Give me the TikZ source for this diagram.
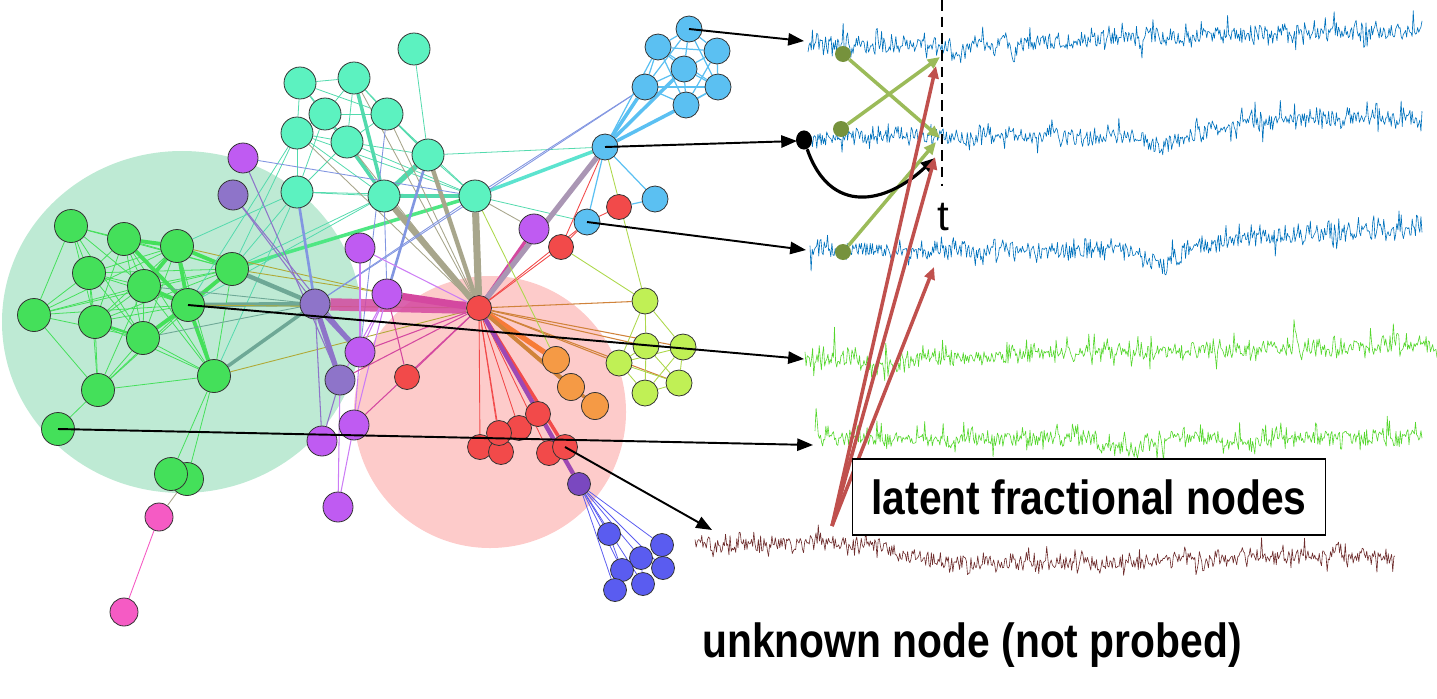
\documentclass[tikz,border=0pt]{standalone}
\usepackage{fontspec}
\setsansfont{Liberation Sans}
\newfontfamily\labelfont{Liberation Sans Bold}[FakeStretch=0.85]
\usetikzlibrary{arrows.meta}
\pgfdeclarelayer{back}
\pgfdeclarelayer{links}
\pgfsetlayers{back,links,main}
\definecolor{bggreen}{RGB}{190,234,212}
\definecolor{bgred}{RGB}{253,203,202}
\definecolor{cteal}{RGB}{92,242,192}
\definecolor{cgreen}{RGB}{68,224,90}
\definecolor{cpurple}{RGB}{191,91,242}
\definecolor{cviolet}{RGB}{142,116,201}
\definecolor{cpink}{RGB}{245,91,196}
\definecolor{csky}{RGB}{91,192,242}
\definecolor{cred}{RGB}{242,74,74}
\definecolor{corange}{RGB}{245,154,69}
\definecolor{clime}{RGB}{192,240,85}
\definecolor{cdviolet}{RGB}{122,72,192}
\definecolor{cblue}{RGB}{90,92,240}
\definecolor{cgray}{RGB}{168,166,140}
\definecolor{cmag}{RGB}{212,72,160}
\definecolor{cslate}{RGB}{110,168,150}
\definecolor{cmauve}{RGB}{170,150,180}
\definecolor{cperi}{RGB}{130,150,225}
\definecolor{trblue}{RGB}{0,114,189}
\definecolor{trgreen}{RGB}{85,215,45}
\definecolor{trbrown}{RGB}{110,45,45}
\definecolor{dotolive}{RGB}{118,146,60}
\definecolor{arrgreen}{RGB}{155,187,89}
\definecolor{arrred}{RGB}{192,80,77}
\tikzset{
  nd/.style = {circle, draw=black!80, line width=0.45pt, inner sep=0pt},
  nd_q/.style = {nd, fill=cteal, minimum size=6.4mm},% teal community
  nd_g/.style = {nd, fill=cgreen, minimum size=6.6mm},% green community
  nd_p/.style = {nd, fill=cpurple, minimum size=6mm},
  nd_v/.style = {nd, fill=cviolet, minimum size=6mm},
  nd_k/.style = {nd, fill=cpink, minimum size=5.6mm},
  nd_s/.style = {nd, fill=csky, minimum size=5.2mm},
  nd_r/.style = {nd, fill=cred, minimum size=5mm},
  nd_o/.style = {nd, fill=corange, minimum size=5.4mm},
  nd_l/.style = {nd, fill=clime, minimum size=5.2mm},
  nd_d/.style = {nd, fill=cdviolet, minimum size=4.6mm},
  nd_b/.style = {nd, fill=cblue, minimum size=4.6mm},
  ed_g/.style = {cgreen, line width=0.45pt},
  ed_gm/.style = {cgreen, line width=2.2pt},
  ed_q/.style = {cteal!90!black, line width=0.45pt},
  ed_qm/.style = {cteal!90!black, line width=2pt},
  ed_w/.style = {cgray, line width=0.5pt},
  ed_t/.style = {cslate, line width=0.5pt},
  ed_u/.style = {cperi, line width=0.5pt},
  ed_x/.style = {cmauve, line width=3pt},
  ed_p/.style = {cpurple!80, line width=0.6pt},
  ed_v/.style = {cviolet, line width=0.6pt},
  ed_m/.style = {cmag, line width=0.6pt},
  ed_r/.style = {cred, line width=0.5pt},
  ed_o/.style = {corange!85!black, line width=0.6pt},
  ed_l/.style = {clime!90!black, line width=0.5pt},
  ed_s/.style = {csky, line width=0.7pt},
  ed_b/.style = {cblue, line width=0.45pt},
  link/.style = {-{Triangle[length=9pt,width=7pt]}, line width=1.1pt, black},
  grarrow/.style = {-{Triangle[length=7pt,width=6pt]}, line width=2pt, arrgreen},
  rdarrow/.style = {-{Triangle[length=7pt,width=6pt]}, line width=2pt, arrred},
  tr_b/.style = {trblue, line width=0.35pt, line join=round},
  tr_g/.style = {trgreen, line width=0.35pt, line join=round},
  tr_n/.style = {trbrown, line width=0.35pt, line join=round},
  bigtext/.style = {font=\labelfont\fontsize{27.3}{30}\selectfont},
}

\begin{document}
\begin{tikzpicture}[x=0.2mm, y=-0.2mm,
  declare function={sg(\z)=1/(1+exp(min(9,max(-9,-\z))));
                    bump(\z)=exp(max(-9,-(\z)*(\z)));
                    jit(\a)=\a*(0.35*rand + rand*rand*rand);
                    spk(\a)=-\a*abs(rand*rand*rand*rand);}]
  \useasboundingbox (0,0) rectangle (1437,698);

  % communities
  \node[nd_q] (q1) at (414,49) {};
  \node[nd_q] (q2) at (300,83) {};
  \node[nd_q] (q3) at (354,78) {};
  \node[nd_q] (q6) at (297,133) {};
  \node[nd_q] (q4) at (325,114) {};
  \node[nd_q] (q5) at (387,114) {};
  \node[nd_q] (q7) at (347,142) {};
  \node[nd_q] (q8) at (428,155) {};
  \node[nd_q] (q9) at (297,192) {};
  \node[nd_q] (q10) at (384,196) {};
  \node[nd_q] (q11) at (475,196) {};

  \node[nd_p] (p1) at (243,158) {};
  \node[nd_v] (v1) at (233,195) {};
  \node[nd_p] (p2) at (360,248) {};
  \node[nd_p] (p3) at (387,294) {};
  \node[nd_v] (v2) at (315,304) {};
  \node[nd_p] (p4) at (360,352) {};
  \node[nd_v] (v3) at (340,380) {};
  \node[nd_p] (p5) at (354,425) {};
  \node[nd_p] (p6) at (322,441) {};
  \node[nd_p] (p7) at (338,507) {};
  \node[nd_p] (p8) at (534,229) {};

  \node[nd_g] (g1) at (71,226) {};
  \node[nd_g] (g2) at (124,239) {};
  \node[nd_g] (g3) at (177,246) {};
  \node[nd_g] (g4) at (89,273) {};
  \node[nd_g] (g5) at (144,286) {};
  \node[nd_g] (g6) at (232,269) {};
  \node[nd_g] (g7) at (188,305) {};
  \node[nd_g] (g8) at (34,315) {};
  \node[nd_g] (g9) at (95,322) {};
  \node[nd_g] (g10) at (143,338) {};
  \node[nd_g] (g11) at (214,376) {};
  \node[nd_g] (g12) at (98,390) {};
  \node[nd_g] (g13) at (58,429) {};
  \node[nd_g] (g14) at (187,479) {};
  \node[nd_g] (g15) at (171,474) {};

  \node[nd_k] (k1) at (159,517) {};
  \node[nd_k] (k2) at (124,612) {};

  \node[nd_s] (s1) at (689,29) {};
  \node[nd_s] (s2) at (658,47) {};
  \node[nd_s] (s3) at (717,51) {};
  \node[nd_s] (s4) at (684,69) {};
  \node[nd_s] (s5) at (645,87) {};
  \node[nd_s] (s6) at (718,87) {};
  \node[nd_s] (s7) at (686,105) {};
  \node[nd_s] (s8) at (605,147) {};
  \node[nd_s] (s9) at (655,199) {};
  \node[nd_s] (s10) at (587,222) {};

  \node[nd_r] (r1) at (619,207) {};
  \node[nd_r] (r2) at (561,247) {};
  \node[nd_r] (hub) at (479,308) {};
  \node[nd_r] (r3) at (407,377) {};
  \node[nd_r] (r7) at (480,447) {};
  \node[nd_r] (r8) at (501,452) {};
  \node[nd_r] (r5) at (519,428) {};
  \node[nd_r] (r6) at (499,433) {};
  \node[nd_r] (r4) at (538,414) {};
  \node[nd_r] (r9) at (549,453) {};
  \node[nd_r] (r10) at (565,447) {};

  \node[nd_o] (o1) at (556,360) {};
  \node[nd_o] (o2) at (571,387) {};
  \node[nd_o] (o3) at (595,406) {};

  \node[nd_l] (l1) at (645,301) {};
  \node[nd_l] (l2) at (646,346) {};
  \node[nd_l] (l3) at (683,347) {};
  \node[nd_l] (l4) at (619,363) {};
  \node[nd_l] (l5) at (679,383) {};
  \node[nd_l] (l6) at (645,393) {};

  \node[nd_d] (d1) at (579,484) {};
  \node[nd_b] (b1) at (609,534) {};
  \node[nd_b] (b2) at (662,545) {};
  \node[nd_b] (b3) at (641,558) {};
  \node[nd_b] (b4) at (622,570) {};
  \node[nd_b] (b5) at (663,568) {};
  \node[nd_b] (b6) at (643,584) {};
  \node[nd_b] (b7) at (615,590) {};

  \begin{pgfonlayer}{back}
    \fill[bggreen] (182,322) ellipse [x radius=36mm, y radius=34.2mm];
    \fill[bgred] (490,412) circle [radius=27.2mm];
  \end{pgfonlayer}

  \begin{pgfonlayer}{links}
    % green community
    \path[ed_g] (g1) edge (g2) edge (g4) edge (g5) edge (g8) edge (g9) edge (g10) edge (g6);
    \path[ed_g] (g2) edge (g4) edge (g5) edge (g6) edge (g9) edge (g10) edge (g11);
    \path[ed_g] (g3) edge (g4) edge (g9) edge (g10) edge (g11) edge (g8);
    \path[ed_g] (g4) edge (g5) edge (g6) edge (g8) edge (g9) edge (g10) edge (g12) edge (g7);
    \path[ed_g] (g5) edge (g6) edge (g8) edge (g9) edge (g10) edge (g11) edge (g12);
    \path[ed_g] (g6) edge (g8) edge (g9) edge (g12) edge (g11) edge (g10);
    \path[ed_g] (g7) edge (g8) edge (g9) edge (g12);
    \path[ed_g] (g8) edge (g10) edge (g12);
    \path[ed_g] (g9) edge (g11) edge (g12);
    \path[ed_g] (g10) edge (g12) edge (g11);
    \path[ed_g] (g11) edge (g12) edge (g14) edge (g15);
    \path[ed_g] (g12) edge (g13);
    \path[ed_gm] (g2) edge (g3) edge (g7);
    \path[ed_gm] (g3) edge (g6) edge (g7) edge (g5);
    \path[ed_gm] (g7) edge (g11) edge (g5) edge (g10) edge (g6);
    \path[ed_gm, line width=1.5pt] (g9) edge (g10);
    \path[ed_gm, line width=2pt, color=cgreen!60!cteal] (g6) edge (q11);
    % teal community
    \path[ed_q] (q2) edge (q3) edge (q4) edge (q6) edge (q5) edge (q10);
    \path[ed_q] (q3) edge (q4) edge (q5) edge (q7) edge (q8);
    \path[ed_q] (q4) edge (q5) edge (q6) edge (q7) edge (q9) edge (q10);
    \path[ed_q] (q5) edge (q7) edge (q8) edge (q11);
    \path[ed_q] (q6) edge (q7) edge (q10) edge (q9) edge (q11) edge (g7) edge (g6);
    \path[ed_q] (q7) edge (q8) edge (q9) edge (q11);
    \path[ed_q] (q8) edge (q11) edge (s8);
    \path[ed_q] (q9) edge (q10) edge (q11) edge (g6) edge (g3) edge (g11);
    \path[ed_q] (q10) edge (g6) edge (g7);
    \path[ed_q] (q1) edge (q8);
    \path[ed_q] (s10) edge (q11);
    \path[ed_qm] (q10) edge (q11) edge (q7) edge (q3);
    \path[ed_qm, line width=3pt] (q8) edge (q10);
    \path[ed_qm, color=cteal!70!csky] (q11) edge (s8);
    % towards the hub
    \path[ed_w, line width=3.5pt] (q10) edge (hub);
    \path[ed_w, line width=4pt] (q11) edge (hub);
    \path[ed_w, line width=2.5pt] (q8) edge (hub);
    \path[ed_w] (q5) edge (hub) (q3) edge (hub) (q7) edge (hub) (q6) edge (hub) (q11) edge (p8) (g14) edge (k1);
    \path[ed_t, line width=2.5pt] (g6) edge (v2) (g7) edge (v2);
    \path[ed_t, line width=2pt] (g11) edge (v2);
    \path[ed_t] (g10) edge (v2) (g5) edge (v2);
    \path[ed_t, color=olive!70] (g6) edge (hub) (g7) edge (hub) (g11) edge (hub) (g3) edge (p3);
    \path[ed_u, line width=1.5pt] (q9) edge (v2) (q8) edge (p3);
    \path[ed_u] (q10) edge (p3) (q5) edge (p4) (p1) edge (q11) (s5) edge (q11) (s5) edge (v2) (q11) edge (v2);
    % purple links
    \path[ed_m, line width=7pt, opacity=0.85] (v2) edge (hub);
    \path[ed_m, line width=4pt] (p3) edge (hub);
    \path[ed_m, line width=2pt] (p8) edge (hub);
    \path[ed_v, line width=3pt] (v2) edge (v3) (v2) edge (p4);
    \path[ed_v] (p1) edge (v3) (v1) edge (v2) (v1) edge (p4) (v2) edge (p6) (p6) edge (v3);
    \path[ed_p] (p2) edge (p4) (p3) edge (p4) (p3) edge (v3) (p3) edge (p5) (p4) edge (p5) (v3) edge (p7) (p5) edge (p7) (p2) edge (hub);
    \path[ed_m] (p4) edge (hub) (p5) edge (hub) (v3) edge (hub) (r3) edge (p3) (r3) edge (hub);
    \path[ed_x] (s8) edge (hub);
    % red and orange
    \path[ed_r] (hub) edge (r2) edge (r4) edge (r5) edge (r6) edge (r7) edge (r8) edge (r9) edge (s10);
    \path[ed_r] (r1) edge (s10) (r2) edge (s10) (r2) edge (s8);
    \path[ed_r, line width=2pt] (hub) edge (r10);
    \path[ed_m, line width=2.5pt, color=cdviolet!60!cmag] (hub) edge (d1);
    \path[ed_o, line width=3pt, color=corange!80!red] (hub) edge (o1);
    \path[ed_o, line width=2pt] (hub) edge (o2) (hub) edge (o3);
    \path[ed_o] (hub) edge (l1) (hub) edge (l2) (hub) edge (l3) (hub) edge (l4) (hub) edge (l5);
    % lime community
    \path[ed_l] (l1) edge (l2) edge (l3) edge (l4);
    \path[ed_l] (l2) edge (l3) edge (l4) edge (l5) edge (l6);
    \path[ed_l] (l3) edge (l4) edge (l5) edge (l6);
    \path[ed_l] (l4) edge (l6) edge (l5);
    \path[ed_l] (l5) edge (l6);
    \path[ed_l] (r2) edge (l1) (s8) edge (l1) (q11) edge (o1);
    % sky community
    \path[ed_s] (s1) edge (s2) edge (s3) edge (s4) edge (s5) edge (s6);
    \path[ed_s] (s2) edge (s3) edge (s4) edge (s5) edge (s6) edge (s7);
    \path[ed_s] (s3) edge (s4) edge (s6) edge (s7);
    \path[ed_s] (s4) edge (s5) edge (s6) edge (s7);
    \path[ed_s] (s5) edge (s6) edge (s7);
    \path[ed_s] (s6) edge (s7);
    \path[ed_s, line width=2pt] (s8) edge (s5) edge (s7) edge (s4);
    \path[ed_s] (s8) edge (s2) edge (s6) edge (s9) edge (s10);
    \path[ed_s] (r1) edge (s9);
    % blue tail
    \path[ed_b] (d1) edge (b1) edge (b2) edge (b3) edge (b4) edge (b5) edge (b6) edge (b7);
    \path[ed_b] (b1) edge (b4) (b3) edge (b6);
    % pink tail
    \path[cpink, line width=0.5pt] (k1) edge (k2);
  \end{pgfonlayer}

  % recorded traces
  \pgfmathsetseed{42}
  \draw[tr_b] plot[domain=808:1422, samples=560]
    (\x, {48 - 16*sg((\x-1120)/90) + 12*bump((\x-958)/10) + 12*bump((\x-1015)/5) + jit(20) + spk(30)});
  \draw[tr_b] plot[domain=808:1422, samples=560]
    (\x, {138 + 14*bump((\x-1165)/25) - 20*sg((\x-1230)/40) + jit(20) + spk(25)});
  \draw[tr_b] plot[domain=810:1422, samples=560]
    (\x, {252 + 14*bump((\x-1165)/25) - 20*sg((\x-1230)/40) + jit(20) + spk(25)});
  \draw[tr_g] plot[domain=805:1437, samples=580]
    (\x, {362 - 15*(\x-805)/632 + 10*bump((\x-885)/20) + jit(18) + spk(45)});
  \draw[tr_g] plot[domain=815:1422, samples=560]
    (\x, {440 + 12*bump((\x-1130)/30) + 8*bump((\x-1235)/15) + jit(18) + spk(45)});
  \draw[tr_n] plot[domain=695:1395, samples=620]
    (\x, {545 + 20*sg((\x-905)/15) - 8*sg((\x-1200)/60) + jit(18) + spk(25)});

  % probes
  \coordinate (w1) at (804,41);
  \coordinate (w2) at (797,141);
  \coordinate (w3) at (806,250);
  \coordinate (w4) at (804,359);
  \coordinate (w5) at (813,445);
  \coordinate (w6) at (712,530);
  \draw[link] (s1.center) -- (w1);
  \draw[link] (s8.center) -- (w2);
  \draw[link] (s10.center) -- (w3);
  \draw[link] (g7.center) -- (w4);
  \draw[link] (g13.center) -- (w5);
  \draw[link] (r10.center) -- (w6);

  % time t
  \coordinate (ttop) at (942,0);
  \coordinate (tbot) at (942,186);
  \draw[line width=1.1pt, dash pattern=on 6pt off 3.5pt] (ttop) -- (tbot);
  \node[font=\sffamily\fontsize{24}{26}\selectfont] (tlab) at (943,217) {t};

  \node[circle, fill=dotolive, minimum size=3.2mm, inner sep=0pt] (c1) at (843,54) {};
  \node[circle, fill=dotolive, minimum size=3.2mm, inner sep=0pt] (c2) at (841,129) {};
  \node[circle, fill=dotolive, minimum size=3.2mm, inner sep=0pt] (c3) at (843,252) {};
  \node[circle, fill=black, minimum size=3.2mm, inner sep=0pt, yscale=1.2] (bd) at (804,140) {};
  \coordinate (ta) at (940,57);
  \coordinate (tb) at (940,138);
  \coordinate (tc) at (936,142);
  \coordinate (td) at (935,158);
  \coordinate (te) at (936,66);
  \coordinate (tf) at (935,157);
  \coordinate (tg) at (934,267);
  \coordinate (u0) at (832,526);
  \draw[grarrow] (c1) -- (tb);
  \draw[grarrow] (c2) -- (ta);
  \draw[grarrow] (c3) -- (tc);
  \draw[-{Triangle[length=8pt,width=7pt]}, line width=1.8pt] (bd) .. controls (830,215) and (885,205) .. (td);
  \draw[rdarrow] (u0) -- (te);
  \draw[rdarrow] (u0) -- (tf);
  \draw[rdarrow] (u0) -- (tg);

  \node[draw, line width=1pt, fill=white, minimum width=94.6mm, minimum height=15.2mm, inner sep=0pt, bigtext] (latent) at (1089,497) {latent fractional nodes};
  \node[bigtext, anchor=base] (unknown) at (972,657) {unknown node (not probed)};
\end{tikzpicture}
\end{document}
